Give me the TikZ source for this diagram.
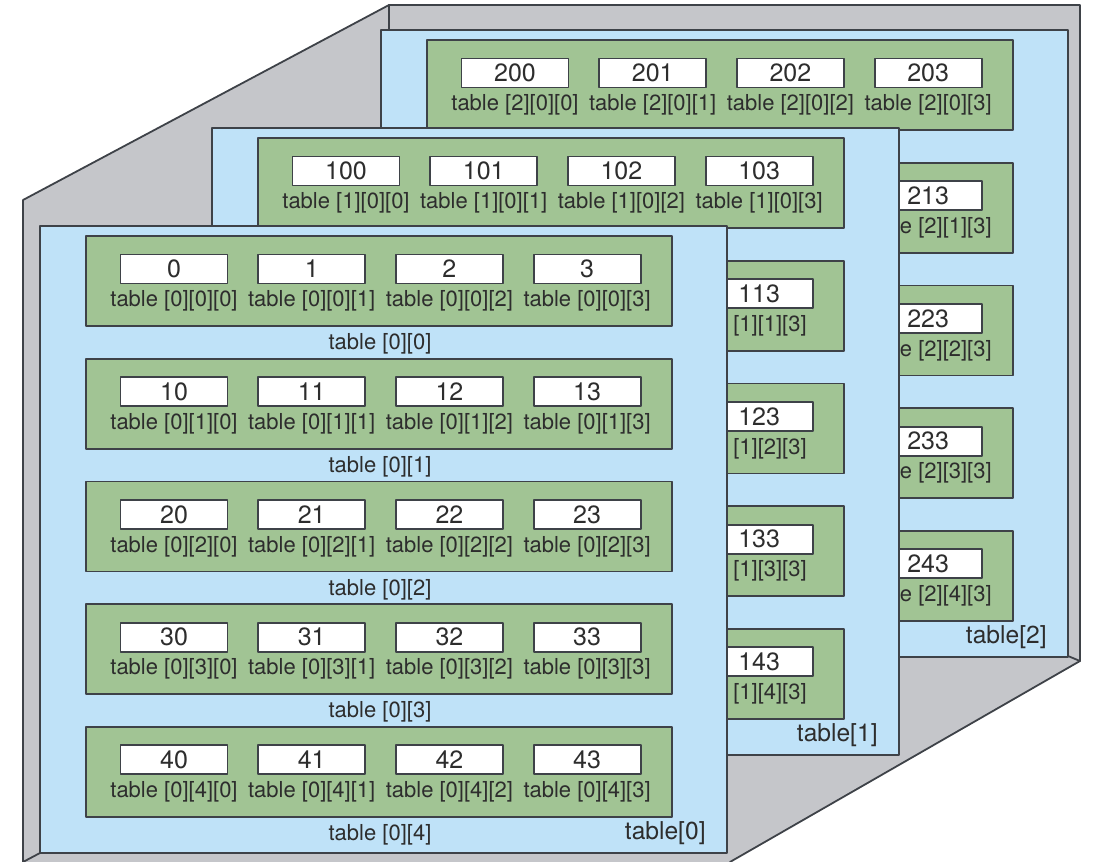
\documentclass[tikz,border=0pt]{standalone}
\usepackage{fontspec}
\setmainfont{TeX Gyre Heros}
\definecolor{boxgray}{RGB}{197,198,202}
\definecolor{sheetblue}{RGB}{191,226,248}
\definecolor{rowgreen}{RGB}{161,196,148}
\definecolor{edgegray}{RGB}{62,66,72}
\definecolor{inkgray}{RGB}{45,45,45}
\tikzset{
  edge/.style={draw=edgegray,line width=0.9pt},
  cell/.style={edge,fill=white,minimum width=53.5pt,minimum height=14.5pt,
    inner sep=0pt,text=inkgray,font=\fontsize{12.5}{12.5}\selectfont},
  tag/.style={inner sep=0pt,text=inkgray,font=\fontsize{11}{11}\selectfont},
  sheettag/.style={tag,font=\fontsize{12.3}{12.3}\selectfont}
}
\begin{document}
\begin{tikzpicture}[x=0.5pt,y=-0.5pt,line cap=round,line join=round]
  \useasboundingbox (0,0) rectangle (1094,862);
  % the box behind the sheets
  \fill[boxgray] (23,200) -- (389,5) -- (1080,5) -- (1080,661) -- (730,862) -- (23,862) -- cycle;
  \draw[edge] (23,862) -- (23,200) -- (389,5) -- (1080,5) -- (1080,661) -- (730,862);
  \draw[edge] (389,5) -- (389,30);
  \draw[edge] (23,862) -- (40,853);
  \draw[edge] (1080,661) -- (1068,656);
  % sheets, back to front (only what shows is set)
  \foreach \k/\px/\py in {2/381/30,1/212/128,0/40/226} {
   \begin{scope}[shift={(\px,\py)}]
    \draw[edge,fill=sheetblue] (0,0) rectangle (687,627);
    \foreach \r in {0,...,4} {
     \pgfmathsetmacro\gy{10+122.7*\r}
     \draw[edge,fill=rowgreen] (46,\gy) rectangle +(586,90);
     \foreach \c in {0,...,3} {
      \pgfmathsetmacro\cx{134+137.7*\c}
      \pgfmathsetmacro\lx{\cx-((\k==1)&&(\r>0)?16:0)}
      \ifnum\numexpr\k*\r*(3-\c)\relax=0
       \node[cell] (v\k\r\c) at (\cx,\gy+33) {\number\numexpr100*\k+10*\r+\c\relax};
       \node[tag] (t\k\r\c) at (\lx,\gy+65) {table [\k][\r][\c]};
      \fi
     }
     \ifnum\k=0
      \node[tag] (r\k\r) at (340,\gy+108) {table [\k][\r]};
     \fi
    }
    \node[sheettag,anchor=east] (p\k) at (666,607) {table[\k]};
   \end{scope}
  }
\end{tikzpicture}
\end{document}
